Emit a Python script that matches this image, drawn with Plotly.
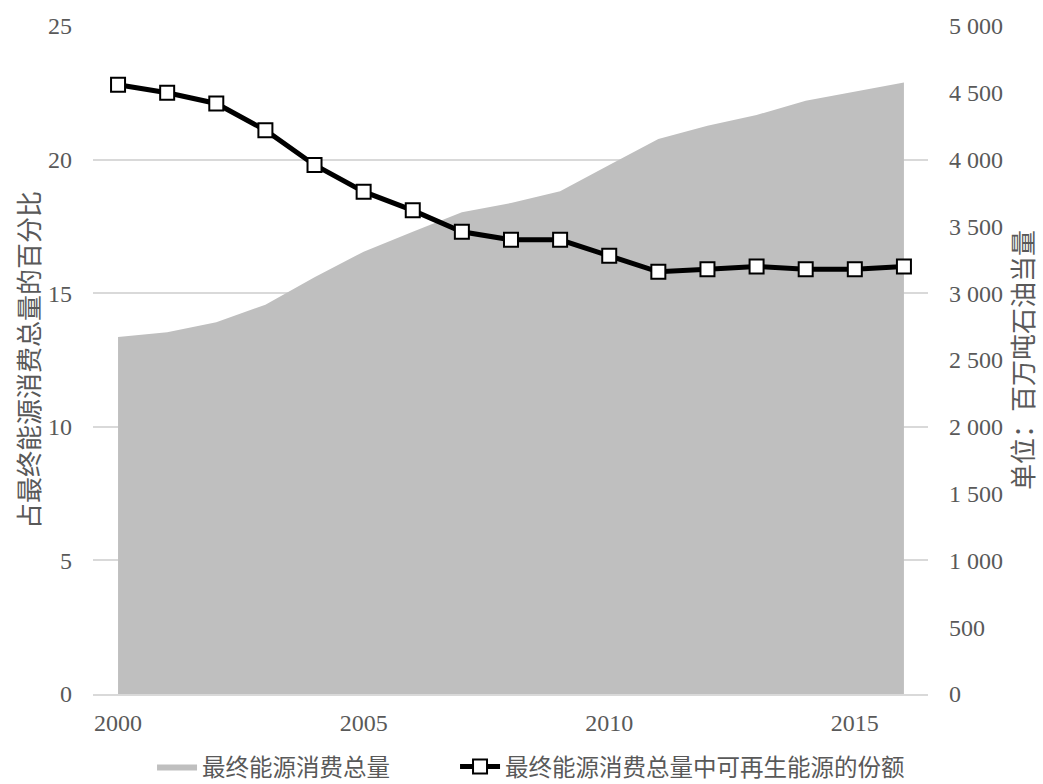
import plotly.graph_objects as go

years = list(range(2000, 2017))

# Total final energy consumption, Mtoe (right axis)
total_consumption = [2673, 2707, 2782, 2914, 3119, 3311, 3460, 3605, 3675, 3763,
                     3960, 4154, 4254, 4334, 4441, 4511, 4578]

# Renewable share of total final energy consumption, % (left axis)
renewable_share = [22.8, 22.5, 22.1, 21.1, 19.8, 18.8, 18.1, 17.3, 17.0, 17.0,
                   16.4, 15.8, 15.9, 16.0, 15.9, 15.9, 16.0]

x_tickvals = [2000, 2005, 2010, 2015]

name_area = "最终能源消费总量"
name_line = "最终能源消费总量中可再生能源的份额"
title_left = "占最终能源消费总量的百分比"
title_right = "单位：百万吨石油当量"

FONT = "Liberation Serif, Times New Roman, Noto Sans CJK SC, serif"
CJK = "Noto Sans CJK SC, Liberation Serif, sans-serif"
TXT = "#595959"
GRID = "#d9d9d9"

fig = go.Figure()

fig.add_trace(go.Scatter(
    x=years, y=total_consumption, name=name_area,
    mode="lines", fill="tozeroy", fillcolor="#bfbfbf",
    line=dict(width=0, color="#bfbfbf"),
    yaxis="y", legendwidth=248,
))

fig.add_trace(go.Scatter(
    x=years, y=renewable_share, name=name_line,
    mode="lines+markers",
    line=dict(color="black", width=5),
    marker=dict(symbol="square", size=14, color="white",
                line=dict(color="black", width=2)),
    yaxis="y2", legendwidth=420,
))

fig.update_layout(
    width=1043, height=784,
    margin=dict(l=93, r=115, t=26, b=90, autoexpand=False),
    paper_bgcolor="white", plot_bgcolor="white",
    separators=". ",
    font=dict(family=FONT, size=24, color=TXT),
    showlegend=True,
    legend=dict(
        orientation="h", x=0.0707, xanchor="left",
        yref="container", y=0.022, yanchor="middle",
        font=dict(family=CJK, size=23.5, color=TXT),
        itemwidth=40, entrywidthmode="pixels",
        tracegroupgap=0,
    ),
    xaxis=dict(
        range=[1999.49, 2016.49],
        tickvals=x_tickvals,
        showgrid=False, zeroline=False,
        showline=True, linecolor=GRID, linewidth=2,
        ticks="", ticklabelstandoff=6, automargin=False,
        tickfont=dict(family=FONT, size=24, color=TXT),
    ),
    yaxis=dict(
        side="right", range=[0, 5000], dtick=500,
        showgrid=False, zeroline=False, showline=False,
        tickformat=",d", automargin=False,
        ticks="", ticklabelstandoff=20,
        tickfont=dict(family=FONT, size=24, color=TXT),
        title=dict(text=title_right, standoff=10,
                   font=dict(family=CJK, size=26, color=TXT)),
    ),
    yaxis2=dict(
        overlaying="y", side="left", range=[0, 25], dtick=5,
        showgrid=True, gridcolor=GRID, gridwidth=1.5,
        zeroline=False, showline=False, automargin=False,
        ticks="", ticklabelstandoff=20,
        tickfont=dict(family=FONT, size=24, color=TXT),
        title=dict(text=title_left, standoff=0,
                   font=dict(family=CJK, size=26, color=TXT)),
    ),
)

fig.write_html("out.html")
